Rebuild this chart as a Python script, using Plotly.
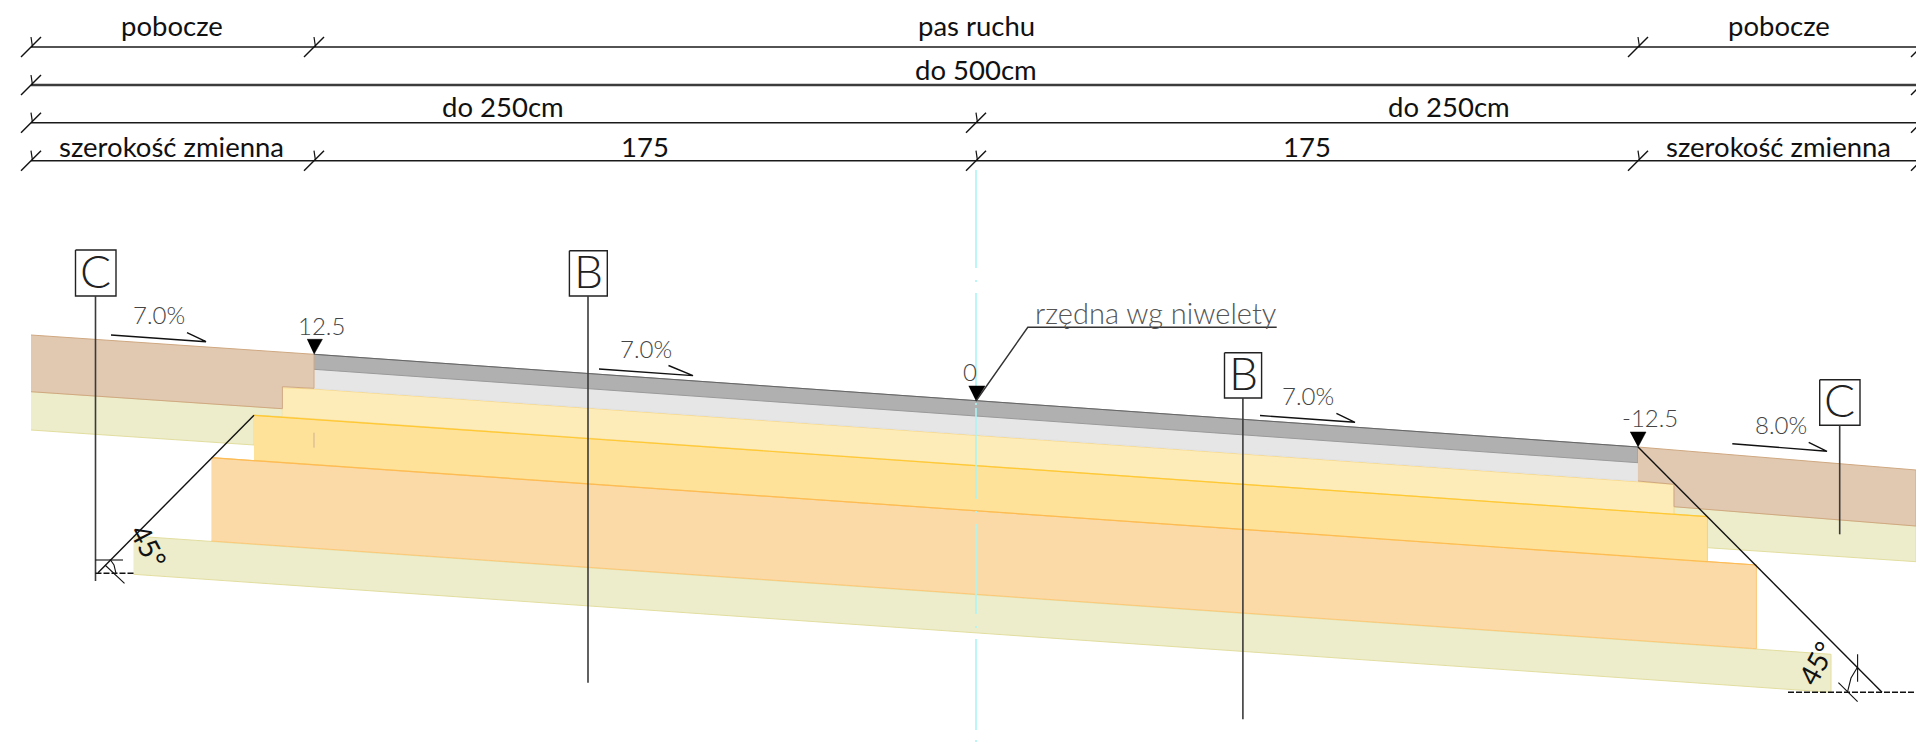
import plotly.graph_objects as go

# Drawing units: picture pixels, y downwards.
W, H = 1916, 742

# --- dimension lines
DIM_Y = [47, 85, 122.7, 160.7]
DIM_TICKS = [
    [31, 314, 1638, 1921],
    [31, 1921],
    [31, 976, 1921],
    [31, 314, 976, 1638, 1921],
]
DIM_WIDTH = [1.6, 2.4, 1.6, 1.6]
DIM_COLOR = ["#1a1a1a", "#3c3c3c", "#1a1a1a", "#1a1a1a"]

# --- layers (x, y outlines)
EARTH_L_X = [31, 282.4, 282.4, 254, 254, 31]
EARTH_L_Y = [391.7, 408.7, 416.7, 415, 445, 430]
EARTH_R_X = [1674, 1916, 1916, 1707.4, 1707.4, 1674]
EARTH_R_Y = [506.7, 526, 561.7, 547.7, 516.7, 514]
EARTH_B_X = [133.5, 1831, 1831, 133.5]
EARTH_B_Y = [536, 654.3, 692.3, 574.3]
ORANGE_X = [211.4, 1756.4, 1756.4, 211.4]
ORANGE_Y = [457.7, 565, 648.7, 541]
YELLOW_X = [254, 1707.4, 1707.4, 254]
YELLOW_Y = [415.3, 516.7, 562, 460.3]
PALE_X = [282.4, 314, 1674, 1674, 282.4]
PALE_Y = [387.7, 389, 484.3, 514.3, 416.7]
LGREY_X = [314, 1638, 1638, 314]
LGREY_Y = [369.3, 462.7, 481, 388.3]
DGREY_X = [314, 1638, 1638, 314]
DGREY_Y = [354.3, 447, 462.7, 369.3]
SHOULDER_L_X = [31, 314, 314, 282.4, 282.4, 31]
SHOULDER_L_Y = [335, 354.3, 388.3, 386.7, 408.7, 391.7]
SHOULDER_R_X = [1638, 1916, 1916, 1674, 1674, 1638]
SHOULDER_R_Y = [447, 470, 526, 506.7, 484.3, 481]

LAYERS = [
    (EARTH_L_X, EARTH_L_Y, "#edeccb", "#e2dea0"),
    (EARTH_R_X, EARTH_R_Y, "#edeccb", "#e2dea0"),
    (EARTH_B_X, EARTH_B_Y, "#edeccb", "#e2dea0"),
    (ORANGE_X, ORANGE_Y, "#fbdaa8", "#fcc877"),
    (YELLOW_X, YELLOW_Y, "#fee29a", "#fdd36a"),
    (PALE_X, PALE_Y, "#fdecb8", "#f8d98a"),
    (LGREY_X, LGREY_Y, "#e6e6e6", "#e0e0e0"),
    (DGREY_X, DGREY_Y, "#b0b0b0", "#9a9a9a"),
    (SHOULDER_L_X, SHOULDER_L_Y, "#e1c9b1", "#cfa881"),
    (SHOULDER_R_X, SHOULDER_R_Y, "#e1c9b1", "#cfa881"),
]

# --- top edges of layers
EDGE_Y1_X, EDGE_Y1_Y = [254, 1707.4], [415.3, 516.7]
EDGE_O_X, EDGE_O_Y = [211.4, 1756.4], [457.7, 565]
EDGE_G_X, EDGE_G_Y = [314, 1638], [354.3, 447]
MARK_X, MARK_Y = [314, 314], [432.7, 447.7]

# --- axis of the road (cyan dash-dot)
AXIS_X = 976
AXIS_SEGMENTS = [(170, 268), (280, 282), (293, 392), (403, 405), (408, 499),
                 (511, 513), (524, 614), (626, 628), (639, 730), (740, 742)]

# --- section marks: letter, box x0, x1, y0, y1, line x, line end
SECTIONS = [
    ("C", 75.5, 116, 250, 296, 95.5, 581),
    ("B", 569.4, 607.3, 250.7, 296, 588, 682.7),
    ("B", 1224.5, 1261.6, 352.7, 398, 1242.9, 719.3),
    ("C", 1819.7, 1860, 379.7, 425.3, 1839.7, 534.3),
]
SECTION_LETTER_LIFT = 3

# --- slope arrows
SLOPE_ARROWS = [
    ([111, 206, 187], [335, 341.7, 332.7]),
    ([599, 693, 668.5], [369, 375.6, 365.5]),
    ([1260, 1355, 1336.4], [415.5, 422.3, 413.3]),
    ([1732.3, 1827, 1808.7], [443.7, 451.3, 442.3]),
]

# --- level triangles
TRIANGLES_X = [[307, 322.4, 314], [968.6, 985, 976], [1630, 1646, 1638]]
TRIANGLES_Y = [[339.3, 339.3, 354.3], [386, 386, 401], [432, 432, 447]]

LEADER_X, LEADER_Y = [976, 1027.8, 1276.7], [401, 327.3, 327.3]

# --- 45 degree construction
SLOPE_L_X, SLOPE_L_Y = [254, 98], [415.3, 572.7]
SLOPE_R_X, SLOPE_R_Y = [1638, 1882], [447, 692.3]
ANGLE_L = [
    ([95.5, 123], [560, 560]),
    ([105, 124.5], [565, 583.3]),
    ([110, 114, 116], [559.3, 565, 573.3]),
]
ANGLE_L_DASH = ([95.5, 133.5], [573.3, 573.3])
ANGLE_R = [
    ([1857.6, 1857.6], [654.3, 681.7]),
    ([1838.4, 1857.6], [682.7, 701.7]),
    ([1857.6, 1851, 1847.4], [667, 678, 692.3]),
]
ANGLE_R_DASH = ([1788, 1916], [692.3, 692.3])

# --- texts
DIM_TEXTS = [
    ("pobocze", 172, 25.5), ("pas ruchu", 976, 25.5), ("pobocze", 1779, 25.5),
    ("do 500cm", 976, 69),
    ("do 250cm", 503, 106.5), ("do 250cm", 1449, 106.5),
    ("szerokość zmienna", 171, 146), ("175", 645, 146),
    ("175", 1307, 146), ("szerokość zmienna", 1778, 146),
]
LIGHT_TEXTS = [
    ("7.0%", 159, 314), ("7.0%", 646, 348), ("7.0%", 1308, 395), ("8.0%", 1781, 424),
    ("12.5", 321, 325), ("0", 970, 371), ("-12.5", 1650, 417),
]
NOTE_TEXT = ("rzędna wg niwelety", 1155.5, 312)
ANGLE_TEXTS = [("45°", 149, 546, 62), ("45°", 1816, 663, -62)]


def line(fig, x, y, color="#111111", width=1.4, dash=None):
    fig.add_trace(go.Scatter(x=x, y=y, mode="lines", hoverinfo="skip", showlegend=False,
                             line=dict(color=color, width=width, dash=dash)))


fig = go.Figure()

for x, y, fill, edge in LAYERS:
    fig.add_trace(go.Scatter(x=x, y=y, mode="lines", fill="toself", fillcolor=fill,
                             hoverinfo="skip", showlegend=False,
                             line=dict(color=edge, width=1)))

line(fig, EDGE_Y1_X, EDGE_Y1_Y, "#ffc933", 1.2)
line(fig, EDGE_O_X, EDGE_O_Y, "#fdbb55", 1.2)
line(fig, EDGE_G_X, EDGE_G_Y, "#666666", 1)
line(fig, MARK_X, MARK_Y, "#cdb08f", 1)

for y0, y1 in AXIS_SEGMENTS:
    line(fig, [AXIS_X, AXIS_X], [y0, y1], "#aaf5f5", 1.6)

for y, ticks, w, c in zip(DIM_Y, DIM_TICKS, DIM_WIDTH, DIM_COLOR):
    line(fig, [31, W], [y, y], c, w)
    for t in ticks:
        line(fig, [t - 10, t + 10], [y + 10, y - 10], "#111111", 1.4)
        line(fig, [t, t + 1.5], [y - 10, y], "#111111", 1.2)

for _, x0, x1, y0, y1, lx, lend in SECTIONS:
    line(fig, [x0, x1, x1, x0, x0], [y0, y0, y1, y1, y0], "#222222", 1.4)
    line(fig, [lx, lx], [y1, lend], "#3a3a3a", 1.6)

for x, y in SLOPE_ARROWS:
    line(fig, x, y, "#111111", 1.4)

for x, y in zip(TRIANGLES_X, TRIANGLES_Y):
    fig.add_trace(go.Scatter(x=x, y=y, mode="lines", fill="toself", fillcolor="#000000",
                             hoverinfo="skip", showlegend=False,
                             line=dict(color="#000000", width=0.5)))

line(fig, LEADER_X, LEADER_Y, "#333333", 1.4)
line(fig, SLOPE_L_X, SLOPE_L_Y, "#111111", 1.4)
line(fig, SLOPE_R_X, SLOPE_R_Y, "#111111", 1.4)
for x, y in ANGLE_L + ANGLE_R:
    line(fig, x, y, "#111111", 1.1)
line(fig, *ANGLE_L_DASH, "#111111", 1.4, "6px,2px")
line(fig, *ANGLE_R_DASH, "#111111", 1.4, "6px,2px")

annotations = []
for s, x, y in DIM_TEXTS:
    annotations.append(dict(text=s, x=x, y=y, showarrow=False,
                            font=dict(family="Lato", size=27.5, color="#111111")))
for s, x, y in LIGHT_TEXTS:
    annotations.append(dict(text=s, x=x, y=y, showarrow=False,
                            font=dict(family="Lato", size=24, color="#444444", weight=300)))
for sec in SECTIONS:
    s, x0, x1, y0, y1 = sec[:5]
    annotations.append(dict(text=s, x=(x0 + x1) / 2, y=(y0 + y1) / 2 - SECTION_LETTER_LIFT,
                            showarrow=False,
                            font=dict(family="Lato", size=46, color="#222222", weight=300)))
annotations.append(dict(text=NOTE_TEXT[0], x=NOTE_TEXT[1], y=NOTE_TEXT[2], showarrow=False,
                        font=dict(family="Lato", size=29, color="#555555", weight=300)))
for s, x, y, rot in ANGLE_TEXTS:
    annotations.append(dict(text=s, x=x, y=y, textangle=rot, showarrow=False,
                            font=dict(family="Lato", size=28, color="#111111")))

fig.update_layout(
    width=W, height=H, margin=dict(l=0, r=0, t=0, b=0),
    paper_bgcolor="#ffffff", plot_bgcolor="#ffffff", showlegend=False,
    xaxis=dict(range=[0, W], visible=False, fixedrange=True),
    yaxis=dict(range=[H, 0], visible=False, fixedrange=True),
    annotations=annotations,
)
fig.write_html("out.html", config=dict(displayModeBar=False),
               post_script="document.body.style.margin='0';document.documentElement.style.overflow='hidden';")
